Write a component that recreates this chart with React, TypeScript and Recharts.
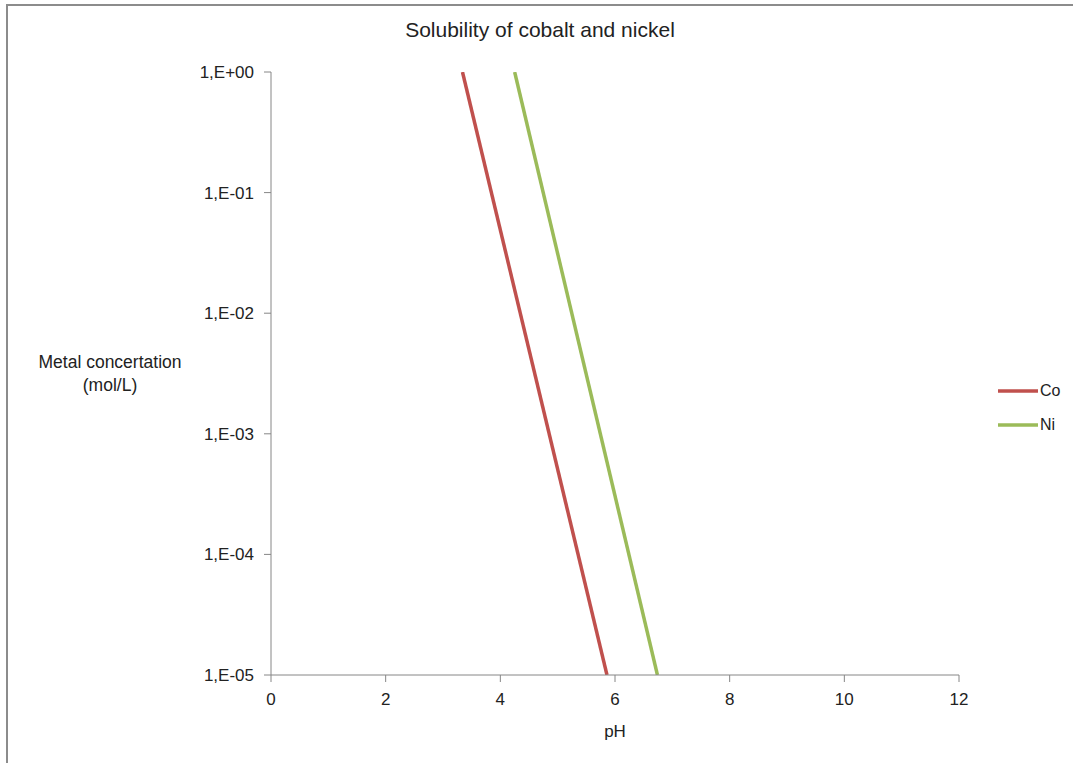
import React from "react";
import { LineChart, Line, XAxis, YAxis, Label } from "recharts";

const coPH = [3.34, 5.86];
const coConc = [1, 1e-5];
const niPH = [4.25, 6.74];
const niConc = [1, 1e-5];
const xTicks = [0, 2, 4, 6, 8, 10, 12];
const yTicks = [1e-5, 1e-4, 1e-3, 1e-2, 1e-1, 1];
const yTickLabels = ["1,E-05", "1,E-04", "1,E-03", "1,E-02", "1,E-01", "1,E+00"];
const seriesNames = ["Co", "Ni"];
const seriesColors = ["#C0504D", "#9BBB59"];

const coData = coPH.map((x, i) => ({ x, y: coConc[i] }));
const niData = niPH.map((x, i) => ({ x, y: niConc[i] }));

const FONT = "'Liberation Sans', Arial, sans-serif";
const AXIS = "#868686";

const fmtY = (v: number) => {
  const i = yTicks.findIndex((t) => Math.abs(Math.log10(t) - Math.log10(v)) < 1e-6);
  return i >= 0 ? yTickLabels[i] : String(v);
};

const YTitle = () => {
  return (
    <text x={110} textAnchor="middle" fontFamily={FONT} fontSize={17.5} fill="#222">
      <tspan x={110} y={368}>Metal concertation</tspan>
      <tspan x={110} y={391}>(mol/L)</tspan>
    </text>
  );
};

export default function App() {
  return (
    <div style={{ position: "absolute", left: 0, top: 0, width: 1073, height: 763, background: "#fff", overflow: "hidden" }}>
      <div
        style={{
          position: "absolute",
          left: 6,
          top: 4,
          width: 1200,
          height: 900,
          borderTop: "2px solid #8c8c8c",
          borderLeft: "2px solid #8c8c8c",
        }}
      />
      <div
        style={{
          position: "absolute",
          left: 0,
          top: 18,
          width: 1080,
          textAlign: "center",
          fontFamily: FONT,
          fontSize: 21,
          color: "#222",
        }}
      >
        Solubility of cobalt and nickel
      </div>
      <div style={{ position: "absolute", left: 0, top: 0 }}>
        <LineChart width={1073} height={763} margin={{ top: 72, right: 114, bottom: 58, left: 0 }}>
          <XAxis
            type="number"
            dataKey="x"
            domain={[0, 12]}
            ticks={xTicks}
            allowDataOverflow
            stroke={AXIS}
            tickSize={7}
            tickMargin={11}
            height={30}
            tick={{ fill: "#222", fontSize: 17, fontFamily: FONT }}
            tickLine={{ stroke: AXIS }}
          >
            <Label value="pH" position="bottom" offset={20} style={{ fill: "#222", fontSize: 17, fontFamily: FONT }} />
          </XAxis>
          <YAxis
            type="number"
            dataKey="y"
            scale="log"
            domain={[1e-5, 1]}
            ticks={yTicks}
            allowDataOverflow
            width={271}
            stroke={AXIS}
            tickSize={7}
            tickMargin={10}
            tickFormatter={fmtY}
            tick={{ fill: "#222", fontSize: 17, fontFamily: FONT }}
            tickLine={{ stroke: AXIS }}
            label={<YTitle />}
          />
          <Line
            data={coData}
            dataKey="y"
            name={seriesNames[0]}
            stroke={seriesColors[0]}
            strokeWidth={3.5}
            dot={false}
            isAnimationActive={false}
          />
          <Line
            data={niData}
            dataKey="y"
            name={seriesNames[1]}
            stroke={seriesColors[1]}
            strokeWidth={3.5}
            dot={false}
            isAnimationActive={false}
          />
        </LineChart>
      </div>
      <div style={{ position: "absolute", left: 998, top: 374, fontFamily: FONT, fontSize: 16, color: "#222" }}>
        {seriesNames.map((n, i) => (
          <div key={n} style={{ display: "flex", alignItems: "center", height: 34 }}>
            <svg width={41} height={6} style={{ display: "block" }}>
              <line x1={0} y1={3} x2={40} y2={3} stroke={seriesColors[i]} strokeWidth={3.5} />
            </svg>
            <span style={{ marginLeft: 1 }}>{n}</span>
          </div>
        ))}
      </div>
    </div>
  );
}
